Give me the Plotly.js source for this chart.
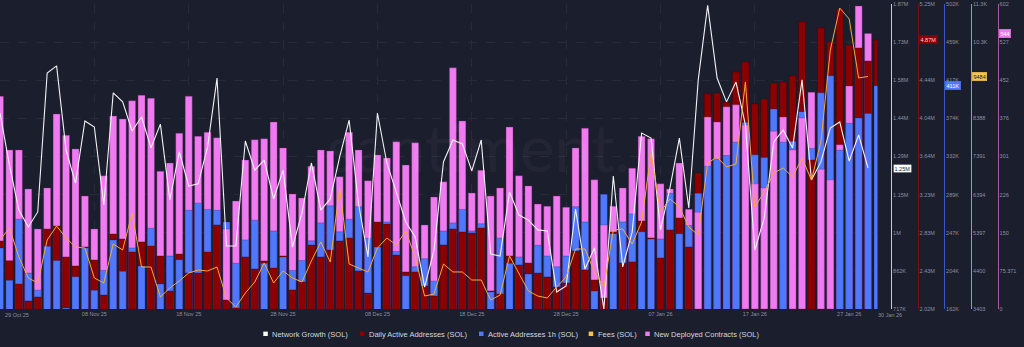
<!DOCTYPE html>
<html>
<head>
<meta charset="utf-8">
<script src="https://cdn.plot.ly/plotly-3.0.1.min.js"></script>
<style>
html,body{margin:0;padding:0;background:#1b1e2d;}
#chart{width:1024px;height:347px;}
</style>
</head>
<body>
<div id="chart"></div>
<script>
// ---------- DATA ----------
const startDate = '2025-10-29';
const dayCount = 94;

// Network Growth (SOL), thousands
const networkGrowthK = [1458,1261,1091,1027,1084,1609,1636,1318,1193,1428,
  1405,1110,1534,1500,1390,1443,1326,1416,1129,1311,
  1182,1190,1329,1590,955,955,1352,1242,1280,1133,
  1242,951,1080,1269,1091,1133,1292,1431,1114,914,
  1458,1269,1159,1046,989,800,940,1273,1356,1341,
  1239,1356,925,917,1159,1072,1053,1016,1012,781,
  804,1095,868,948,717,1220,876,1008,1382,1363,
  1016,1174,1363,1099,1583,1865,1590,1500,1575,1413,
  940,1061,1348,1394,1326,1583,1205,1273,1401,1424,
  1276,1375,1250,null];

// Daily Active Addresses (SOL), millions
const dailyActiveM = [2.740,2.530,2.285,2.105,2.147,2.867,2.899,2.571,2.475,2.677,
  2.539,2.168,2.814,2.761,2.624,2.730,2.687,2.581,2.211,2.602,
  2.401,2.401,2.624,2.910,2.115,2.031,2.571,2.444,2.528,2.454,
  2.581,2.221,2.306,2.698,2.571,2.645,2.740,2.772,2.422,2.189,
  2.941,2.920,2.592,2.412,2.412,2.264,2.158,2.698,2.867,2.835,
  2.825,2.878,2.211,2.179,2.581,2.486,2.507,2.401,2.359,2.253,
  2.295,2.634,2.433,2.327,2.136,2.835,2.507,2.518,2.952,2.772,
  2.560,2.857,2.984,2.677,3.460,4.297,4.307,4.212,4.530,4.636,
  4.191,4.244,4.413,4.424,4.487,5.059,3.598,4.996,4.848,5.197,
  4.816,4.784,4.646,4.870];

// Active Addresses 1h (SOL), thousands
const activeAddr1hK = [230,194,262,202,183,232,216,163,198,230,
  183,205,239,204,230,210,252,190,221,217,
  272,280,273,272,259,213,239,261,213,249,
  220,205,216,238,258,277,248,262,276,241,
  231,259,226,199,209,218,193,249,258,273,
  249,257,181,241,213,220,201,233,221,209,
  221,276,259,182,290,246,259,268,248,240,
  240,291,246,255,291,321,329,333,348,370,
  334,331,385,348,349,382,341,403,422,339,
  369,375,380,411];

// Fees (SOL)
const fees = [5207,5521,4763,4214,4083,5207,5573,5260,5024,4998,
  4214,4083,5103,4946,5913,4501,4501,3717,3952,4135,
  4344,4423,4397,4501,3691,3455,3821,4109,4606,4083,
  4397,4214,4109,4658,5155,4632,6567,4580,4475,4371,
  4998,5260,5077,5443,4763,3743,3795,4580,4371,4371,
  4161,4161,3638,3769,4789,4344,3874,3743,3691,3978,
  4240,4972,4972,4371,3978,5469,5495,5103,5678,7482,
  5940,6280,6070,5547,5338,7221,7378,7116,7195,9339,
  6070,6463,6959,7090,6855,7352,6776,7770,10176,11274,
  10987,9444,9484,null];

// New Deployed Contracts (SOL)
const newContracts = [420,314,314,237,158,239,385,343,316,223,
  158,263,381,375,411,422,416,272,288,347,
  420,341,349,338,158,213,294,334,336,369,
  318,227,219,282,314,312,261,349,314,253,
  304,298,330,284,328,166,221,251,476,371,
  229,274,223,239,359,263,243,207,203,223,
  201,318,357,255,166,203,239,278,341,336,
  247,237,288,197,191,379,369,399,403,363,
  247,239,351,379,314,377,428,276,255,324,
  440,598,544,null];

// axis ranges and tick labels (labels hidden under value badges in the reference left blank)
const ngRange = [717, 1870];
const ngTicks = ['717K','862K','1M','1.15M','1.29M','1.44M','1.58M','1.73M','1.87M'];
const daaRange = [2.02, 5.25];
const daaTicks = ['2.02M','2.43M','2.83M','3.23M','3.64M','4.04M','4.44M','','5.25M'];
const aaRange = [162, 502];
const aaTicks = ['162K','204K','247K','289K','332K','374K','417K','459K','502K'];
const feeRange = [3403, 11379];
const feeTicks = ['3403','4400','5397','6394','7391','8388','','10.3K','11.3K'];
const ndcRange = [0, 602];
const ndcTicks = ['0','75.371','150','226','301','376','452','527','602'];

const xTickDates = ['2025-11-08','2025-11-18','2025-11-28','2025-12-08','2025-12-18','2025-12-28','2026-01-07','2026-01-17','2026-01-27'];
const xEdgeLabels = ['29 Oct 25','30 Jan 26'];

const legendNames = ['Network Growth (SOL)','Daily Active Addresses (SOL)','Active Addresses 1h (SOL)','Fees (SOL)','New Deployed Contracts (SOL)'];

// ---------- STYLE ----------
const BG = '#1b1e2d';
const C_NG = '#f2f2f5', C_DAA = '#8b0000', C_AA = '#5078ff', C_FEE = '#f2ab3c', C_NDC = '#f07bf0';
const C_FEE_BADGE = '#f7c548';
const TICK_COLOR = '#8b90a0';
const FONT = 'Liberation Sans, Arial, sans-serif';
const W = 1024, H = 347;
const plotRightPx = 877.5, topPx = 4, bottomPx = 309;

// dates
const dates = [];
{
  const d0 = new Date(startDate + 'T00:00:00Z');
  for (let i = 0; i < dayCount; i++) {
    const d = new Date(d0.getTime() + i * 86400000);
    dates.push(d.toISOString().slice(0, 10));
  }
}

function linspace(r, n) { const a = []; for (let i = 0; i < n; i++) a.push(r[0] + (r[1] - r[0]) * i / (n - 1)); return a; }
const px = v => v / W;
const py = v => (bottomPx - v) / (bottomPx - topPx);

// ---------- BAR LAYERING (tallest behind, shortest in front) ----------
const barSeries = [
  {vals: dailyActiveM, range: daaRange, color: C_DAA, line: 'rgba(60,0,0,0.6)'},
  {vals: activeAddr1hK, range: aaRange, color: C_AA, line: 'rgba(20,30,90,0.5)'},
  {vals: newContracts, range: ndcRange, color: C_NDC, line: 'rgba(110,40,110,0.6)'}
];
const ranks = barSeries.map(() => new Array(dayCount).fill(-1));
for (let i = 0; i < dayCount; i++) {
  const h = barSeries.map((s, k) => ({k, h: s.vals[i] == null ? -1 : (s.vals[i] - s.range[0]) / (s.range[1] - s.range[0])}));
  h.sort((a, b) => b.h - a.h);
  h.forEach((o, r) => { ranks[o.k][i] = r; });
}

const traces = [];
traces.push({x: [dates[0]], y: [null], type: 'scatter', mode: 'lines', xaxis: 'x', yaxis: 'y', hoverinfo: 'skip', showlegend: false});

const barWidth = 0.74 * 86400000;
for (let r = 0; r < 3; r++) {
  barSeries.forEach((s, k) => {
    const axNum = 2 + r * 3 + k;
    traces.push({
      type: 'bar', x: dates,
      y: s.vals.map((v, i) => ranks[k][i] === r ? v : null),
      width: barWidth,
      marker: {color: s.color, line: {color: s.line, width: 0.6}},
      xaxis: 'x', yaxis: 'y' + axNum, hoverinfo: 'skip', showlegend: false
    });
  });
}
traces.push({type: 'scatter', mode: 'lines', x: dates, y: networkGrowthK, line: {color: C_NG, width: 1.1}, xaxis: 'x', yaxis: 'y11', hoverinfo: 'skip', showlegend: false});
traces.push({type: 'scatter', mode: 'lines', x: dates, y: fees, line: {color: C_FEE, width: 1}, xaxis: 'x', yaxis: 'y12', hoverinfo: 'skip', showlegend: false});

// ---------- LAYOUT ----------
const layout = {
  width: W, height: H,
  margin: {l: 0, r: 0, t: topPx, b: H - bottomPx, pad: 0},
  paper_bgcolor: BG, plot_bgcolor: BG,
  barmode: 'overlay', showlegend: false,
  font: {family: FONT, color: TICK_COLOR, size: 5.5},
  xaxis: {
    type: 'date', domain: [0, plotRightPx / W], range: [dates[0], dates[dayCount - 1]],
    tickvals: xTickDates, tickformat: '%d %b %y', ticks: '', ticklen: 0,
    tickfont: {size: 5.5, color: TICK_COLOR, family: FONT},
    showgrid: true, gridcolor: '#262a3a', griddash: 'dash', gridwidth: 1,
    zeroline: false, showline: false, fixedrange: true
  },
  yaxis: {
    range: ngRange, tickvals: linspace(ngRange, 9), showticklabels: false, ticks: '',
    showgrid: true, gridcolor: '#262a3a', griddash: 'dash', gridwidth: 1,
    zeroline: false, showline: false, fixedrange: true
  },
  annotations: [], shapes: []
};

function visAxis(range, ticks, pos, lineColor) {
  return {
    overlaying: 'y', anchor: 'free', position: pos, side: 'right',
    range: range, tickvals: linspace(range, 9), ticktext: ticks,
    ticks: '', showgrid: false, zeroline: false, showline: true, linecolor: lineColor, linewidth: 1,
    tickfont: {size: 5.5, color: TICK_COLOR, family: FONT}, fixedrange: true
  };
}
function hidAxis(range) {
  return {overlaying: 'y', range: range, visible: false, showgrid: false, zeroline: false, fixedrange: true};
}
const ranges = [daaRange, aaRange, ndcRange];
for (let r = 0; r < 3; r++) {
  for (let k = 0; k < 3; k++) {
    const axNum = 2 + r * 3 + k;
    layout['yaxis' + axNum] = hidAxis(ranges[k]);
  }
}
layout.yaxis2 = visAxis(daaRange, daaTicks, px(917.5), '#7a0d12');
layout.yaxis3 = visAxis(aaRange, aaTicks, px(944), '#3b56c8');
layout.yaxis4 = visAxis(ndcRange, ndcTicks, px(997.5), '#a65aa6');
layout.yaxis11 = visAxis(ngRange, ngTicks, px(891), '#c9cad0');
layout.yaxis12 = visAxis(feeRange, feeTicks, px(971), '#c99a32');

// watermark
layout.annotations.push({text: 'santiment.', xref: 'paper', yref: 'paper', x: px(478), y: py(146), xanchor: 'center', yanchor: 'middle',
  showarrow: false, font: {family: 'Lato, sans-serif', size: 66, color: 'rgba(255,255,255,0.035)'}});

// x edge labels
layout.annotations.push({text: xEdgeLabels[0], xref: 'paper', yref: 'paper', x: px(2.5), y: py(315), xanchor: 'left', yanchor: 'middle', showarrow: false, font: {size: 5.5, color: TICK_COLOR, family: FONT}});
layout.annotations.push({text: xEdgeLabels[1], xref: 'paper', yref: 'paper', x: px(876), y: py(315), xanchor: 'left', yanchor: 'middle', showarrow: false, font: {size: 5.5, color: TICK_COLOR, family: FONT}});

// last-value badges
function lastVal(a) { for (let i = a.length - 1; i >= 0; i--) if (a[i] != null) return a[i]; return null; }
function fmtK(vK) { return vK >= 1000 ? (vK / 1000).toFixed(2) + 'M' : Math.round(vK) + 'K'; }
const badges = [
  {v: lastVal(networkGrowthK), t: fmtK(lastVal(networkGrowthK)), yref: 'y11', x: 893, bg: '#ffffff', fg: '#1b1e2d', border: '#1b1e2d'},
  {v: lastVal(dailyActiveM), t: lastVal(dailyActiveM).toFixed(2) + 'M', yref: 'y2', x: 919, bg: C_DAA, fg: '#ffd6d6', border: C_DAA},
  {v: lastVal(activeAddr1hK), t: fmtK(lastVal(activeAddr1hK)), yref: 'y3', x: 945, bg: C_AA, fg: '#ffffff', border: C_AA},
  {v: lastVal(fees), t: String(lastVal(fees)), yref: 'y12', x: 972, bg: C_FEE_BADGE, fg: '#1b1e2d', border: C_FEE_BADGE},
  {v: lastVal(newContracts), t: String(lastVal(newContracts)), yref: 'y4', x: 999, bg: C_NDC, fg: '#ffffff', border: C_NDC}
];
badges.forEach(b => {
  layout.annotations.push({text: b.t, xref: 'paper', yref: b.yref, x: px(b.x), y: b.v, xanchor: 'left', yanchor: 'middle',
    showarrow: false, bgcolor: b.bg, bordercolor: b.border, borderwidth: 0.5, borderpad: 1,
    font: {size: 5.5, color: b.fg, family: FONT}});
});

// legend (squares + labels)
const legendColors = ['#ffffff', C_DAA, C_AA, C_FEE_BADGE, C_NDC];
const legendX = [263.3, 360, 479, 588.7, 645.3];
legendNames.forEach((n, i) => {
  layout.shapes.push({type: 'rect', xref: 'paper', yref: 'paper', x0: px(legendX[i]), x1: px(legendX[i] + 4.5), y0: py(336), y1: py(331.6), fillcolor: legendColors[i], line: {width: 0}});
  layout.annotations.push({text: n, xref: 'paper', yref: 'paper', x: px(legendX[i] + 7), y: py(334), xanchor: 'left', yanchor: 'middle', showarrow: false,
    font: {size: 7.5, color: '#d4d6de', family: FONT}});
});

Plotly.newPlot('chart', traces, layout, {staticPlot: true, displayModeBar: false});
</script>
</body>
</html>
